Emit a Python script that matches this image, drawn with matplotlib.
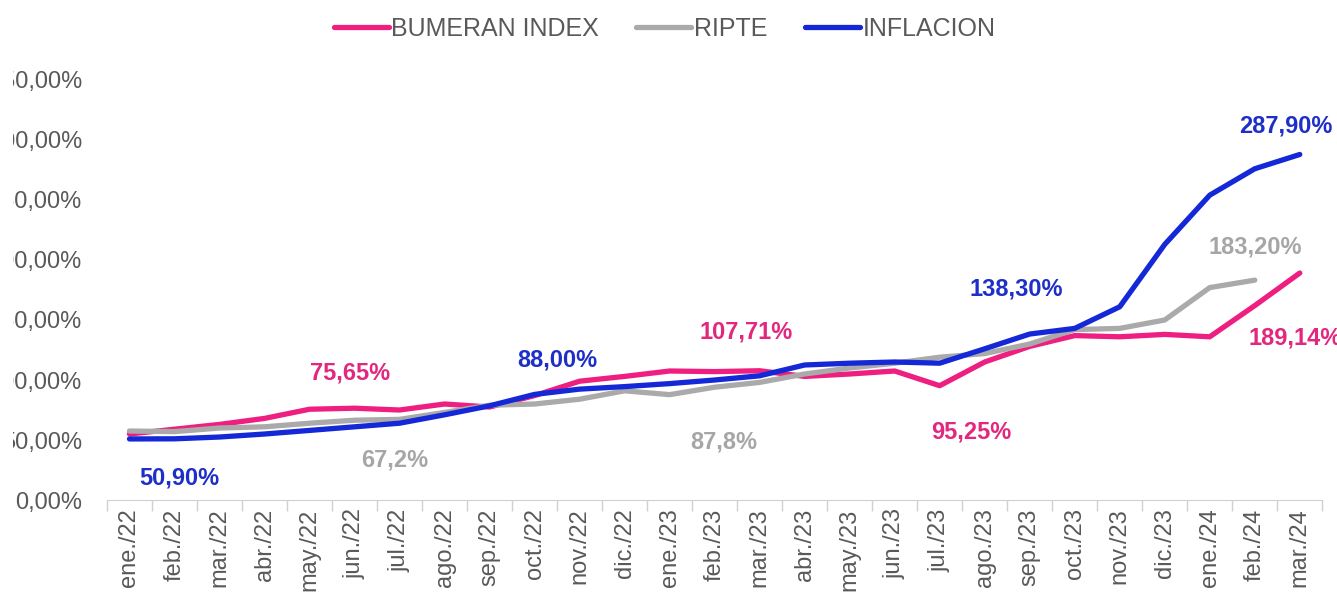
import matplotlib.pyplot as plt
import numpy as np
from matplotlib.ticker import FixedLocator, FuncFormatter
from matplotlib.transforms import Bbox, TransformedBbox

plt.rcParams['font.family'] = ['Liberation Sans', 'DejaVu Sans']

months = ['ene./22', 'feb./22', 'mar./22', 'abr./22', 'may./22', 'jun./22',
          'jul./22', 'ago./22', 'sep./22', 'oct./22', 'nov./22', 'dic./22',
          'ene./23', 'feb./23', 'mar./23', 'abr./23', 'may./23', 'jun./23',
          'jul./23', 'ago./23', 'sep./23', 'oct./23', 'nov./23', 'dic./23',
          'ene./24', 'feb./24', 'mar./24']

bumeran = [55, 59, 63, 68, 75.65, 76.5, 75, 80, 77.5, 87, 99, 103,
           107.5, 107, 107.71, 103, 105, 107.5, 95.25, 115, 128, 137,
           136, 138, 136, 162, 189.14]
ripte = [57.5, 57, 60, 61, 64, 66.5, 67.2, 73, 79, 80, 84, 91,
         87.8, 94, 98, 105, 110, 114, 119, 122, 130, 142, 143, 150,
         177, 183.2]
inflacion = [50.9, 51, 52.5, 55, 58, 61, 64, 71, 78.5, 88, 92.4, 94.5,
             97, 100, 103.5, 112.5, 114, 115, 114, 126, 138.3, 143,
             161, 213, 254, 276, 287.9]

# (text, month index, value, colour)
labels = [
    ('75,65%', 4.9, 106, '#e2277f'),
    ('88,00%', 9.5, 117, '#1e2fc8'),
    ('107,71%', 13.7, 140, '#e2277f'),
    ('50,90%', 1.1, 18, '#1e2fc8'),
    ('67,2%', 5.9, 33, '#a6a6a6'),
    ('87,8%', 13.2, 48, '#a6a6a6'),
    ('95,25%', 18.7, 57, '#e2277f'),
    ('138,30%', 19.7, 176, '#1e2fc8'),
    ('183,20%', 25.0, 211, '#a6a6a6'),
    ('189,14%', 25.9, 135, '#e2277f'),
    ('287,90%', 25.7, 312, '#1e2fc8'),
]

pink = '#ee1f80'
grey = '#aaaaaa'
blue = '#1428d8'
text_grey = '#595959'

fig = plt.figure(figsize=(13.37, 6.01), dpi=100)
ax = fig.add_axes([0.080, 0.168, 0.909, 0.699])

x = np.arange(len(months))
ax.plot(x, bumeran, color=pink, lw=3.8, solid_capstyle='round', label='BUMERAN INDEX')
ax.plot(x[:len(ripte)], ripte, color=grey, lw=3.8, solid_capstyle='round', label='RIPTE')
ax.plot(x, inflacion, color=blue, lw=3.8, solid_capstyle='round', label='INFLACION')

for txt, xi, yv, c in labels:
    ax.text(xi, yv, txt, color=c, fontsize=17, fontweight='bold',
            ha='center', va='center', clip_on=False)

ax.set_xlim(-0.5, len(months) - 0.5)
ax.set_ylim(0, 350)
ax.set_xticks(x)
ax.set_xticklabels(months, rotation=90, fontsize=17, color=text_grey)
ax.xaxis.set_minor_locator(FixedLocator(np.arange(-0.5, len(months), 1)))
ax.tick_params(axis='x', which='major', length=0, pad=6)
ax.tick_params(axis='x', which='minor', length=8, color='#d0d0d0', width=1)

ax.set_yticks(np.arange(0, 351, 50))
ax.yaxis.set_major_formatter(FuncFormatter(lambda v, p: f'{v:.2f}'.replace('.', ',') + '%'))
ax.tick_params(axis='y', length=0, pad=18, labelsize=17, labelcolor=text_grey)

for s in ['left', 'right', 'top']:
    ax.spines[s].set_visible(False)
ax.spines['bottom'].set_color('#d0d0d0')

# the source image is cropped on its left edge
clip = TransformedBbox(Bbox([[13 / 1337, 0], [1, 1]]), fig.transFigure)
for lbl in ax.get_yticklabels():
    lbl.set_clip_box(clip)
    lbl.set_clip_on(True)

leg = fig.legend(loc='center', bbox_to_anchor=(0.497, 0.952), ncol=3, frameon=False,
                 fontsize=18, handlelength=2.2, handletextpad=0.1, columnspacing=1.5)
for t in leg.get_texts():
    t.set_color(text_grey)

fig.savefig('out.png', dpi=100)
